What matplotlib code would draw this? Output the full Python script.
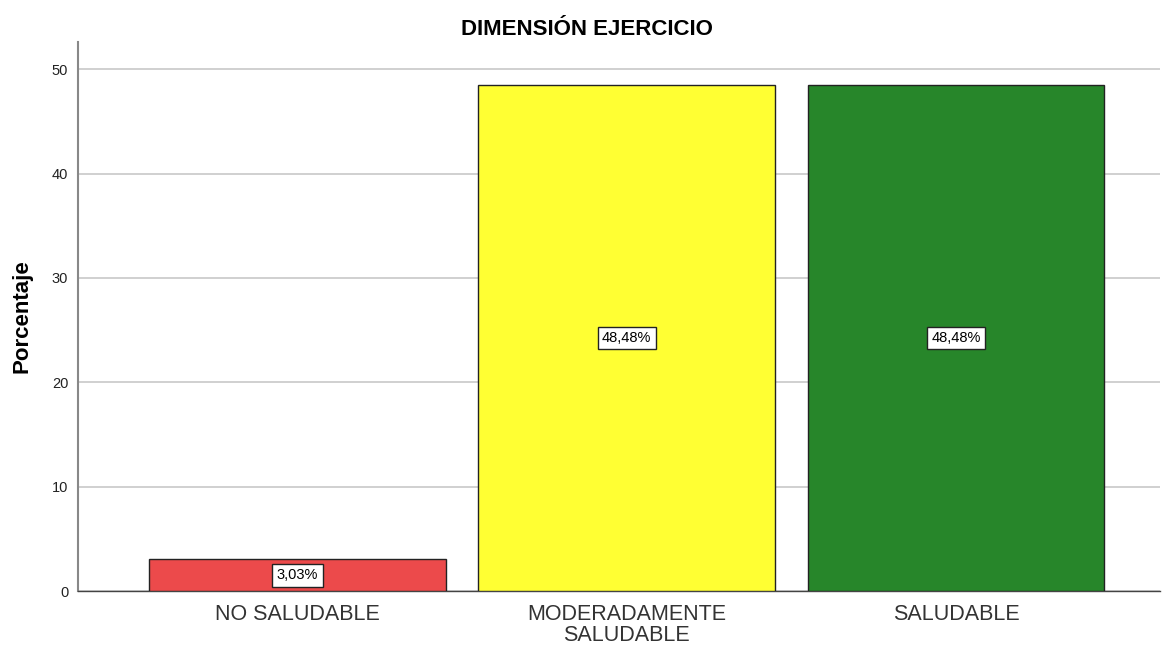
import matplotlib
matplotlib.use("Agg")
import matplotlib.pyplot as plt
import numpy as np

plt.rcParams["font.family"] = ["Liberation Sans", "DejaVu Sans"]

categories = ["NO SALUDABLE", "MODERADAMENTE\nSALUDABLE", "SALUDABLE"]
values = [3.03, 48.48, 48.48]
labels = ["3,03%", "48,48%", "48,48%"]
colors = ["#ec4a4b", "#ffff33", "#27862a"]

fig = plt.figure(figsize=(11.62, 6.45), dpi=100)
ax = fig.add_axes([0.0671, 0.0837, 0.931, 0.8512])

x = np.arange(len(categories))
ax.bar(x, values, 0.902, color=colors, edgecolor="#222222", linewidth=1.0, zorder=3)
for xi, v, lab in zip(x, values, labels):
    ax.text(xi, v / 2, lab, ha="center", va="center", fontsize=10.5, zorder=4,
            bbox=dict(boxstyle="square,pad=0.3", fc="white", ec="#222222", lw=1))

ax.set_xlim(-0.667, 2.619)
ax.set_ylim(0, 52.6)
ax.set_yticks([0, 10, 20, 30, 40, 50])
ax.yaxis.grid(True, color="#c8c8c8", lw=1.2, zorder=0)
ax.set_axisbelow(True)
ax.set_xticks(x)
ax.set_xticklabels(categories, fontsize=15.5, color="#333333", linespacing=1.05)
ax.tick_params(axis="y", labelsize=10.5, length=0, pad=7, colors="#222222")
ax.tick_params(axis="x", length=0, pad=9)
for s in ["top", "right"]:
    ax.spines[s].set_visible(False)
ax.spines["left"].set_color("#888888")
ax.spines["left"].set_linewidth(1.5)
ax.spines["bottom"].set_color("#444444")
ax.spines["bottom"].set_linewidth(1.0)
ax.set_ylabel("Porcentaje", fontsize=16, fontweight="bold", labelpad=14)
fig.text(0.505, 0.955, "DIMENSIÓN EJERCICIO", fontsize=16, fontweight="bold",
         ha="center", va="center")

fig.savefig("out.png", dpi=100)
